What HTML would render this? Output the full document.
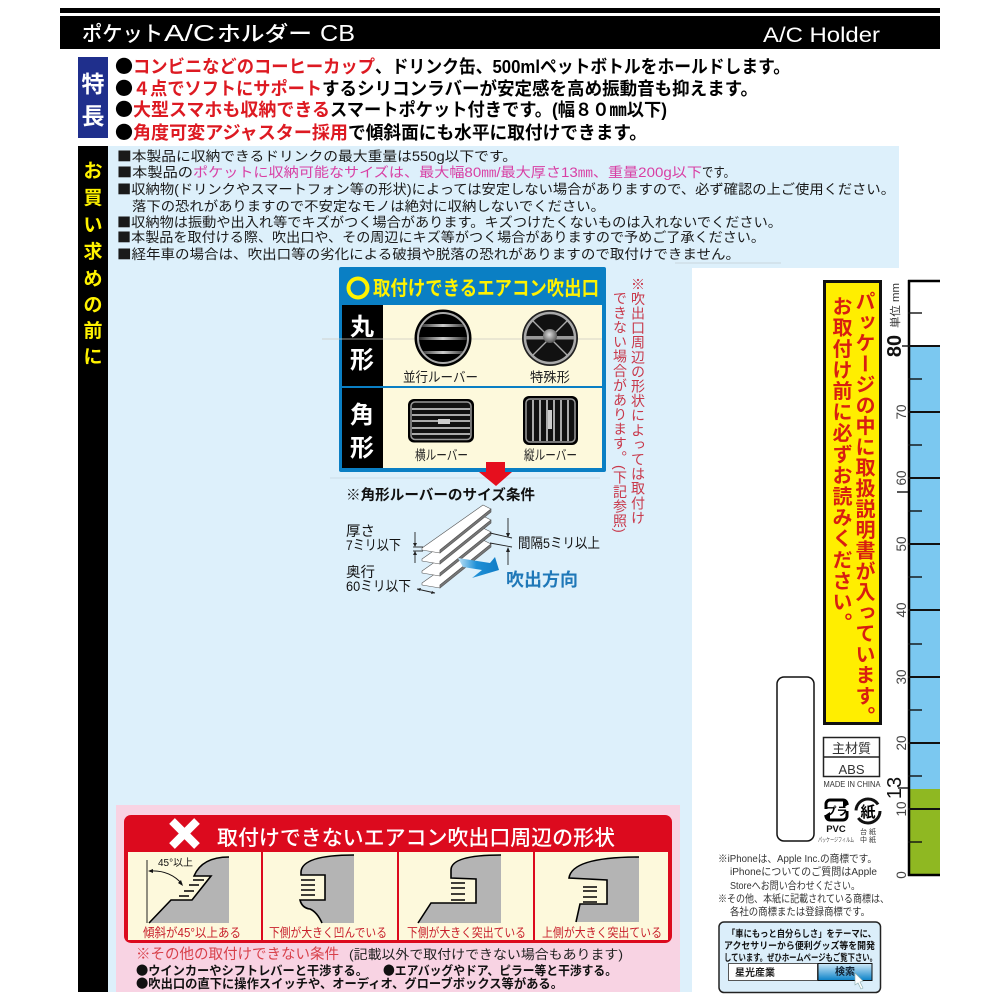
<!DOCTYPE html>
<html lang="ja"><head><meta charset="utf-8"><title>ポケットA/Cホルダー CB</title>
<style>
html,body{margin:0;padding:0;background:#fff;width:1000px;height:1000px;overflow:hidden}
svg{position:absolute;left:0;top:0;font-family:"Liberation Sans","Noto Sans CJK JP",sans-serif}
.j{font-family:"Noto Sans CJK JP",sans-serif}
.b{font-weight:700}
.v{position:absolute;writing-mode:vertical-rl;white-space:nowrap;font-family:"Liberation Sans","Noto Sans CJK JP",sans-serif}
</style></head><body>
<svg width="1000" height="1000" viewBox="0 0 1000 1000" xmlns="http://www.w3.org/2000/svg">
<defs>
<linearGradient id="lv" x1="0" x2="1" y1="0" y2="0"><stop offset="0" stop-color="#222"/><stop offset=".5" stop-color="#ccc"/><stop offset="1" stop-color="#222"/></linearGradient>
<radialGradient id="hub" cx=".45" cy=".4" r=".6"><stop offset="0" stop-color="#ddd"/><stop offset="1" stop-color="#555"/></radialGradient>
<linearGradient id="btn" x1="0" x2="0" y1="0" y2="1"><stop offset="0" stop-color="#cfe9f8"/><stop offset="1" stop-color="#0a82c8"/></linearGradient>
<linearGradient id="ar" x1="0" x2="1" y1="0" y2="0"><stop offset="0" stop-color="#bfe3f7"/><stop offset=".45" stop-color="#1e8fd6"/><stop offset="1" stop-color="#0f7cc6"/></linearGradient>
<clipPath id="c1"><circle cx="443" cy="338" r="24"/></clipPath>
<clipPath id="c2"><circle cx="550" cy="338" r="24"/></clipPath>
</defs>

<!-- header -->
<rect x="60" y="8" width="880" height="5" fill="#000"/>
<rect x="60" y="16" width="880" height="33" fill="#000"/>
<g font-size="21" fill="#fff" font-weight="500">
<text x="82" y="41" textLength="81" lengthAdjust="spacingAndGlyphs">ポケット</text>
<text x="164" y="41" font-size="23" textLength="51" lengthAdjust="spacingAndGlyphs">A/C</text>
<text x="217" y="41" textLength="95" lengthAdjust="spacingAndGlyphs">ホルダー</text>
<text x="320" y="41" font-size="23" textLength="35" lengthAdjust="spacingAndGlyphs">CB</text>
</g>
<text x="763" y="42" font-size="21" fill="#fff" textLength="117" lengthAdjust="spacingAndGlyphs">A/C Holder</text>

<!-- features -->
<rect x="78" y="57" width="30" height="81" fill="#1f2f8c"/>
<text x="93" y="92" font-size="23" class="b" fill="#fff" text-anchor="middle">特</text>
<text x="93" y="124" font-size="23" class="b" fill="#fff" text-anchor="middle">長</text>
<g class="b" font-size="18">
<text class="j" x="115" y="73">●</text><text class="j" x="115" y="95">●</text><text class="j" x="115" y="116">●</text><text class="j" x="115" y="139">●</text>
<g fill="#dd1a22">
<text x="133" y="73" textLength="242" lengthAdjust="spacingAndGlyphs">コンビニなどのコーヒーカップ</text>
<text x="133" y="95" textLength="189" lengthAdjust="spacingAndGlyphs">４点でソフトにサポート</text>
<text x="133" y="116" textLength="197" lengthAdjust="spacingAndGlyphs">大型スマホも収納できる</text>
<text x="133" y="139" textLength="215" lengthAdjust="spacingAndGlyphs">角度可変アジャスター採用</text>
</g>
<text x="375" y="73" textLength="415" lengthAdjust="spacingAndGlyphs">、ドリンク缶、500mlペットボトルをホールドします。</text>
<text x="322" y="95" textLength="436" lengthAdjust="spacingAndGlyphs">するシリコンラバーが安定感を高め振動音も抑えます。</text>
<text x="330" y="116" textLength="337" lengthAdjust="spacingAndGlyphs">スマートポケット付きです。(幅８０㎜以下)</text>
<text x="348" y="139" textLength="299" lengthAdjust="spacingAndGlyphs">で傾斜面にも水平に取付けできます。</text>
</g>

<!-- panels -->
<rect x="108" y="146" width="791" height="122" fill="#ddf0fb"/>
<rect x="108" y="268" width="584" height="724" fill="#ddf0fb"/>
<rect x="78" y="146" width="30" height="846" fill="#000"/>
<g class="b" font-size="19" fill="#fff200" text-anchor="middle">
<text x="93" y="177">お</text><text x="93" y="204">買</text><text x="93" y="231">い</text><text x="93" y="258">求</text><text x="93" y="285">め</text><text x="93" y="311">の</text><text x="93" y="337">前</text><text x="93" y="363">に</text>
</g>

<!-- notes -->
<g font-size="13.5" fill="#1a1a1a">
<text x="117" y="161" textLength="400" lengthAdjust="spacingAndGlyphs"><tspan class="j">■</tspan>本製品に収納できるドリンクの最大重量は550g以下です。</text>
<text x="117" y="177" textLength="76" lengthAdjust="spacingAndGlyphs"><tspan class="j">■</tspan>本製品の</text>
<text x="193" y="177" fill="#d83fa4" textLength="509" lengthAdjust="spacingAndGlyphs">ポケットに収納可能なサイズは、最大幅80㎜/最大厚さ13㎜、重量200g以下</text>
<text x="702" y="177" textLength="33" lengthAdjust="spacingAndGlyphs">です。</text>
<text x="117" y="194" textLength="778" lengthAdjust="spacingAndGlyphs"><tspan class="j">■</tspan>収納物(ドリンクやスマートフォン等の形状)によっては安定しない場合がありますので、必ず確認の上ご使用ください。</text>
<text x="132" y="211" textLength="473" lengthAdjust="spacingAndGlyphs">落下の恐れがありますので不安定なモノは絶対に収納しないでください。</text>
<text x="117" y="227" textLength="665" lengthAdjust="spacingAndGlyphs"><tspan class="j">■</tspan>収納物は振動や出入れ等でキズがつく場合があります。キズつけたくないものは入れないでください。</text>
<text x="117" y="242" textLength="648" lengthAdjust="spacingAndGlyphs"><tspan class="j">■</tspan>本製品を取付ける際、吹出口や、その周辺にキズ等がつく場合がありますので予めご了承ください。</text>
<text x="117" y="259" textLength="623" lengthAdjust="spacingAndGlyphs"><tspan class="j">■</tspan>経年車の場合は、吹出口等の劣化による破損や脱落の恐れがありますので取付けできません。</text>
</g>
<line x1="675" y1="263" x2="781" y2="263" stroke="#c9d6de" stroke-width="1"/>

<!-- OK box -->
<rect x="339" y="267" width="267" height="205" rx="2" fill="#0a7fc4"/>
<circle cx="358" cy="288" r="9.5" fill="none" stroke="#fff200" stroke-width="4"/>
<text x="373" y="295" font-size="20" class="b" fill="#fff200" textLength="226" lengthAdjust="spacingAndGlyphs">取付けできるエアコン吹出口</text>
<rect x="342" y="305" width="260" height="81" fill="#fdf9dc"/>
<rect x="342" y="388" width="260" height="80" fill="#fdf9dc"/>
<rect x="342" y="305" width="41" height="81" fill="#000"/>
<rect x="342" y="388" width="41" height="80" fill="#000"/>
<g class="b" font-size="24" fill="#fff" text-anchor="middle">
<text x="362" y="335">丸</text><text x="362" y="368">形</text><text x="362" y="423">角</text><text x="362" y="456">形</text>
</g>
<line x1="322" y1="339" x2="602" y2="339" stroke="#c8c8c0" stroke-width=".7"/>
<line x1="330" y1="478" x2="600" y2="478" stroke="#c4d6e0" stroke-width=".7"/>

<!-- round vents -->
<circle cx="443" cy="338" r="28.5" fill="#000"/>
<circle cx="443" cy="338" r="25" fill="#000" stroke="#aaa" stroke-width="2"/>
<g clip-path="url(#c1)">
<rect x="418" y="324" width="50" height="3" fill="url(#lv)"/><rect x="418" y="337" width="50" height="3" fill="url(#lv)"/><rect x="418" y="351" width="50" height="3" fill="url(#lv)"/>
</g>
<circle cx="550" cy="338" r="28" fill="#222"/>
<circle cx="550" cy="338" r="25" fill="#111" stroke="#aaa" stroke-width="2.5"/>
<g clip-path="url(#c2)" stroke="#aaa" stroke-width="1.3">
<line x1="530" y1="318" x2="570" y2="358"/><line x1="570" y1="318" x2="530" y2="358"/>
<rect x="525" y="336" width="50" height="3.5" fill="#999" stroke="none"/>
</g>
<circle cx="550" cy="336" r="7" fill="url(#hub)"/>
<text x="403" y="382" font-size="13.5" fill="#222" textLength="75" lengthAdjust="spacingAndGlyphs">並行ルーバー</text>
<text x="530" y="382" font-size="13.5" fill="#222" textLength="40" lengthAdjust="spacingAndGlyphs">特殊形</text>

<!-- square vents -->
<rect x="408" y="399" width="66" height="43.5" rx="6" fill="#000"/>
<rect x="411" y="402" width="60" height="37.5" rx="4" fill="#111" stroke="#999" stroke-width="1.5"/>
<g fill="#aaa"><rect x="412" y="408" width="58" height="2"/><rect x="412" y="414" width="58" height="2"/><rect x="412" y="420" width="58" height="2"/><rect x="412" y="427" width="58" height="2"/><rect x="412" y="433" width="58" height="2"/></g>
<rect x="438" y="419" width="12" height="5" fill="#ccc"/>
<rect x="523" y="396" width="55" height="49" rx="6" fill="#000"/>
<rect x="526" y="399" width="49" height="43" rx="4" fill="#111" stroke="#999" stroke-width="1.5"/>
<g fill="#aaa"><rect x="532" y="400" width="2" height="41"/><rect x="539" y="400" width="2" height="41"/><rect x="546" y="400" width="2" height="41"/><rect x="553" y="400" width="2" height="41"/><rect x="560" y="400" width="2" height="41"/><rect x="567" y="400" width="2" height="41"/></g>
<rect x="548" y="410" width="4" height="19" fill="#ccc"/>
<text x="415" y="460" font-size="13.5" fill="#222" textLength="53" lengthAdjust="spacingAndGlyphs">横ルーバー</text>
<text x="524" y="460" font-size="13.5" fill="#222" textLength="53" lengthAdjust="spacingAndGlyphs">縦ルーバー</text>

<!-- red arrow -->
<polygon points="486,462 505,462 505,472 512,472 496,486 479,472 486,472" fill="#e60f1e"/>

<text x="346" y="500" font-size="14.5" class="b" fill="#111" textLength="189" lengthAdjust="spacingAndGlyphs">※角形ルーバーのサイズ条件</text>

<!-- slats -->
<g stroke="#555" stroke-width=".6" stroke-linejoin="round">
<g transform="translate(0,35)"><polygon points="422,548 483,505 491,509 440,550 440,553 422,550" fill="#fff"/><polygon points="440,550 491,509 491,512 440,553" fill="#777"/></g>
<g transform="translate(0,23)"><polygon points="422,548 483,505 491,509 440,550 440,553 422,550" fill="#fff"/><polygon points="440,550 491,509 491,512 440,553" fill="#777"/></g>
<g transform="translate(0,11)"><polygon points="422,548 483,505 491,509 440,550 440,553 422,550" fill="#fff"/><polygon points="440,550 491,509 491,512 440,553" fill="#777"/></g>
<g><polygon points="422,548 483,505 491,509 440,550 440,553 422,550" fill="#fff"/><polygon points="440,550 491,509 491,512 440,553" fill="#777"/></g>
</g>
<polygon points="458,558 490,563 495,557 499,570 472,578 482,570 463,567" fill="url(#ar)"/>
<!-- dimension marks -->
<g stroke="#222" stroke-width=".9" fill="none">
<line x1="415" y1="532" x2="415" y2="546"/><line x1="415" y1="551" x2="415" y2="563"/>
<line x1="413" y1="547" x2="423" y2="547"/><line x1="413" y1="551" x2="423" y2="551"/>
<line x1="508" y1="518" x2="508" y2="536"/><line x1="508" y1="549" x2="508" y2="565"/>
<polyline points="490,533 512,538"/><polyline points="490,543 512,547"/>
<line x1="417" y1="589" x2="435" y2="593"/>
</g>
<g fill="#222">
<polygon points="413,543 417,543 415,547"/><polygon points="413,555 417,555 415,551"/>
<polygon points="506,533 510,533 508,538"/><polygon points="506,552 510,552 508,547"/>
<polygon points="417,589 421,588 420,591"/><polygon points="435,593 431,594 432,591"/>
</g>
<g font-size="14" fill="#111">
<text x="346" y="536" textLength="29" lengthAdjust="spacingAndGlyphs">厚さ</text>
<text x="346" y="550" textLength="55" lengthAdjust="spacingAndGlyphs">7ミリ以下</text>
<text x="346" y="577" textLength="29" lengthAdjust="spacingAndGlyphs">奥行</text>
<text x="346" y="591" textLength="65" lengthAdjust="spacingAndGlyphs">60ミリ以下</text>
<text x="518" y="548" textLength="82" lengthAdjust="spacingAndGlyphs">間隔5ミリ以上</text>
</g>
<text x="506" y="586" font-size="18" class="b" fill="#1f78b8" textLength="72" lengthAdjust="spacingAndGlyphs">吹出方向</text>

<!-- pink panel -->
<rect x="116" y="805" width="564" height="187" fill="#f8d3e3"/>
<rect x="124" y="815" width="548" height="128" rx="7" fill="#dc0a1e"/>
<g stroke="#fff" stroke-width="8"><line x1="172" y1="821" x2="197" y2="846"/><line x1="197" y1="821" x2="172" y2="846"/></g>
<text x="217" y="845" font-size="21" fill="#fff" font-weight="500" textLength="398" lengthAdjust="spacingAndGlyphs">取付けできないエアコン吹出口周辺の形状</text>
<rect x="128" y="852" width="133" height="88" fill="#fdf9dc"/>
<rect x="263" y="852" width="134" height="88" fill="#fdf9dc"/>
<rect x="399" y="852" width="134" height="88" fill="#fdf9dc"/>
<rect x="535" y="852" width="133" height="88" fill="#fdf9dc"/>

<!-- cell shapes -->
<path d="M149,923 L171,900 L192,900 L211,876 L194,876 Q202,857 229,857 L229,923 Z" fill="#b4b4b4"/>
<path d="M149,923 L171,900 L192,900 L211,876 L194,876 Q202,857 229,857" fill="none" stroke="#000" stroke-width="1.6"/>
<line x1="147" y1="860" x2="147" y2="923" stroke="#222"/>
<path d="M150,871 Q170,870 182,884" fill="none" stroke="#111"/>
<polygon points="148,871 153,869 153,873" fill="#111"/><polygon points="183,886 178,883 181,880" fill="#111"/>
<g stroke="#000" stroke-width="1.5"><line x1="193" y1="880" x2="204" y2="880"/><line x1="189" y1="885" x2="199" y2="885"/><line x1="184" y1="891" x2="194" y2="891"/><line x1="179" y1="896" x2="189" y2="896"/></g>
<text x="158" y="866" font-size="10" fill="#111" textLength="35" lengthAdjust="spacingAndGlyphs">45°以上</text>

<path d="M354,855 Q302,855 301,872 L301,875 L325,875 L325,900 L300,900 Q302,908 310,909 Q317,912 322,923 L354,923 Z" fill="#b4b4b4"/>
<path d="M354,855 Q302,855 301,872 L301,875 L325,875 L325,900 L300,900 Q302,908 310,909 Q317,912 322,923" fill="none" stroke="#000" stroke-width="1.6"/>
<g stroke="#000" stroke-width="1.5"><line x1="301" y1="880" x2="315" y2="880"/><line x1="301" y1="885" x2="315" y2="885"/><line x1="301" y1="890" x2="315" y2="890"/><line x1="301" y1="895" x2="315" y2="895"/></g>

<path d="M501,855 Q451,855 451,870 L451,878 L476,879 L476,903 L431,903 L418,923 L501,923 Z" fill="#b4b4b4"/>
<path d="M501,855 Q451,855 451,870 L451,878 L476,879 L476,903 L431,903 L418,923" fill="none" stroke="#000" stroke-width="1.6"/>
<g stroke="#000" stroke-width="1.5"><line x1="451" y1="883" x2="465" y2="883"/><line x1="451" y1="888" x2="465" y2="888"/><line x1="451" y1="894" x2="465" y2="894"/><line x1="451" y1="900" x2="465" y2="900"/></g>

<path d="M639,857 Q572,857 569,878 L607,880 L607,904 L580,904 L576,922 L639,922 Z" fill="#b4b4b4"/>
<path d="M639,857 Q572,857 569,878 L607,880 L607,904 L580,904 L576,922" fill="none" stroke="#000" stroke-width="1.6"/>
<g stroke="#000" stroke-width="1.5"><line x1="583" y1="887" x2="597" y2="887"/><line x1="583" y1="891" x2="597" y2="891"/><line x1="583" y1="897" x2="597" y2="897"/><line x1="583" y1="902" x2="597" y2="902"/></g>

<g font-size="12.5" fill="#c8202c">
<text x="143" y="937" textLength="98" lengthAdjust="spacingAndGlyphs">傾斜が45°以上ある</text>
<text x="269" y="937" textLength="118" lengthAdjust="spacingAndGlyphs">下側が大きく凹んでいる</text>
<text x="407" y="937" textLength="119" lengthAdjust="spacingAndGlyphs">下側が大きく突出ている</text>
<text x="542" y="937" textLength="120" lengthAdjust="spacingAndGlyphs">上側が大きく突出ている</text>
</g>
<text x="136" y="959" font-size="14.5" fill="#d8404a" textLength="203" lengthAdjust="spacing">※その他の取付けできない条件</text>
<text x="349" y="959" font-size="13" fill="#222" textLength="274" lengthAdjust="spacingAndGlyphs">(記載以外で取付けできない場合もあります)</text>
<g font-size="12.5" class="b" fill="#111">
<text x="136" y="975" textLength="232" lengthAdjust="spacingAndGlyphs"><tspan class="j">●</tspan>ウインカーやシフトレバーと干渉する。</text>
<text x="383" y="975" textLength="234" lengthAdjust="spacingAndGlyphs"><tspan class="j">●</tspan>エアバッグやドア、ピラー等と干渉する。</text>
<text x="136" y="988" textLength="427" lengthAdjust="spacingAndGlyphs"><tspan class="j">●</tspan>吹出口の直下に操作スイッチや、オーディオ、グローブボックス等がある。</text>
</g>

<!-- right column -->
<rect x="777" y="677" width="37" height="164" rx="7" fill="#fff" stroke="#111" stroke-width="1.5"/>
<rect x="824.5" y="281.5" width="56" height="442" fill="#ffee00" stroke="#111" stroke-width="3"/>

<!-- table -->
<rect x="823.5" y="737.5" width="56" height="39" fill="#fff" stroke="#222" stroke-width="1.5"/>
<line x1="823" y1="757" x2="880" y2="757" stroke="#222" stroke-width="1.5"/>
<text x="851.5" y="753" font-size="13" fill="#333" text-anchor="middle">主材質</text>
<text x="851.5" y="774" font-size="13" fill="#333" text-anchor="middle">ABS</text>
<text x="823.5" y="787" font-size="8.5" fill="#333" textLength="57" lengthAdjust="spacingAndGlyphs">MADE IN CHINA</text>

<!-- recycle marks -->
<rect x="826" y="800" width="21" height="20" rx="4" fill="none" stroke="#000" stroke-width="3"/>
<rect x="843" y="805" width="6" height="6" fill="#fff"/><rect x="824" y="809" width="6" height="6" fill="#fff"/>
<polygon points="843,800 849,804 843,808" fill="#000"/><polygon points="830,812 824,816 830,820" fill="#000"/>
<text x="836.5" y="815" font-size="11" class="b" fill="#000" text-anchor="middle">プラ</text>
<text x="836" y="832" font-size="9.5" class="b" fill="#111" text-anchor="middle">PVC</text>
<text x="836" y="842" font-size="6" fill="#444" text-anchor="middle" textLength="36" lengthAdjust="spacingAndGlyphs">パッケージフィルム</text>
<circle cx="868" cy="811" r="12" fill="none" stroke="#111" stroke-width="3" stroke-dasharray="30 8"/>
<text x="868" y="817" font-size="15" class="b" fill="#000" text-anchor="middle">紙</text>
<text x="868" y="834" font-size="7" fill="#333" text-anchor="middle">台 紙</text>
<text x="868" y="842" font-size="7" fill="#333" text-anchor="middle">中 紙</text>

<!-- trademark -->
<g font-size="10.5" fill="#333">
<text x="718" y="862" textLength="159" lengthAdjust="spacingAndGlyphs">※iPhoneは、Apple Inc.の商標です。</text>
<text x="730" y="875" textLength="147" lengthAdjust="spacingAndGlyphs">iPhoneについてのご質問はApple</text>
<text x="730" y="889" textLength="130" lengthAdjust="spacingAndGlyphs">Storeへお問い合わせください。</text>
<text x="718" y="902" textLength="171" lengthAdjust="spacingAndGlyphs">※その他、本紙に記載されている商標は、</text>
<text x="730" y="915" textLength="140" lengthAdjust="spacingAndGlyphs">各社の商標または登録商標です。</text>
</g>

<!-- search box -->
<rect x="719" y="922" width="161.5" height="70.5" rx="5" fill="#dbeefa" stroke="#222" stroke-width="1.5"/>
<g font-size="9.5" class="b" fill="#111">
<text x="727" y="937" textLength="149" lengthAdjust="spacingAndGlyphs">「車にもっと自分らしさ」をテーマに、</text>
<text x="724" y="949" textLength="151" lengthAdjust="spacingAndGlyphs">アクセサリーから便利グッズ等を開発</text>
<text x="724" y="961" textLength="153" lengthAdjust="spacingAndGlyphs">しています。ぜひホームページもご覧下さい。</text>
</g>
<rect x="728.5" y="963.5" width="89" height="17" fill="#fff" stroke="#555" stroke-width="1"/>
<rect x="818" y="963.5" width="54" height="17" fill="url(#btn)" stroke="#111" stroke-width="1"/>
<text x="735" y="976" font-size="10" class="b" fill="#222" textLength="40" lengthAdjust="spacing">星光産業</text>
<text x="845" y="975" font-size="10" class="b" fill="#123" text-anchor="middle">検索</text>
<polygon points="855,973 863,981 860,982 863,988 861,989 858,983 855,985" fill="#fff" stroke="#8aa" stroke-width=".6"/>

<!-- ruler -->
<rect x="908" y="346" width="32" height="443" fill="#7bc8f0"/>
<rect x="908" y="789" width="32" height="86" fill="#8fb822"/>
<g stroke="#000" stroke-width="2.5">
<line x1="909" y1="280" x2="909" y2="876"/>
<line x1="908" y1="281" x2="940" y2="281"/>
<line x1="908" y1="875" x2="940" y2="875"/>
</g>
<g stroke="#111" stroke-width="2">
<line x1="908" y1="346" x2="940" y2="346"/><line x1="908" y1="412" x2="940" y2="412"/><line x1="908" y1="478" x2="940" y2="478"/><line x1="908" y1="544" x2="940" y2="544"/><line x1="908" y1="610" x2="940" y2="610"/><line x1="908" y1="677" x2="940" y2="677"/><line x1="908" y1="743" x2="940" y2="743"/><line x1="908" y1="809" x2="940" y2="809"/>
</g>
<g stroke="#111" stroke-width="1.4">
<line x1="908" y1="313" x2="922" y2="313"/><line x1="908" y1="379" x2="922" y2="379"/><line x1="908" y1="445" x2="922" y2="445"/><line x1="908" y1="511" x2="922" y2="511"/><line x1="908" y1="577" x2="922" y2="577"/><line x1="908" y1="644" x2="922" y2="644"/><line x1="908" y1="710" x2="922" y2="710"/><line x1="908" y1="776" x2="922" y2="776"/><line x1="908" y1="842" x2="922" y2="842"/>
<line x1="902" y1="346" x2="908" y2="346"/><line x1="897" y1="492" x2="908" y2="492"/><line x1="898" y1="788" x2="908" y2="788"/>
</g>
<g font-size="13.5" fill="#444" text-anchor="middle">
<text transform="translate(906,412) rotate(-90)">70</text>
<text transform="translate(906,478) rotate(-90)">60</text>
<text transform="translate(906,544) rotate(-90)">50</text>
<text transform="translate(906,610) rotate(-90)">40</text>
<text transform="translate(906,677) rotate(-90)">30</text>
<text transform="translate(906,743) rotate(-90)">20</text>
<text transform="translate(906,809) rotate(-90)">10</text>
<text transform="translate(906,875) rotate(-90)">0</text>
</g>
<text transform="translate(901,346) rotate(-90)" font-size="20" class="b" fill="#111" text-anchor="middle">80</text>
<text transform="translate(901,788) rotate(-90)" font-size="20" fill="#111" text-anchor="middle">13</text>
<text transform="translate(899,328) rotate(-90)" font-size="11" fill="#333" textLength="45" lengthAdjust="spacingAndGlyphs">単位 mm</text>
</svg>

<div class="v" style="left:628px;top:277px;font-size:14px;line-height:20px;letter-spacing:.6px;color:#c8384a">※吹出口周辺の形状によっては取付け</div>
<div class="v" style="left:610px;top:291px;font-size:14px;line-height:20px;letter-spacing:.5px;color:#c8384a">できない場合があります。(下記参照)</div>
<div class="v" style="left:851px;top:291px;font-size:20px;line-height:24px;letter-spacing:.75px;font-weight:700;color:#d81e10">パッケージの中に取扱説明書が入っています。</div>
<div class="v" style="left:828px;top:296px;font-size:20px;line-height:24px;letter-spacing:1.1px;font-weight:700;color:#d81e10">お取付け前に必ずお読みください。</div>
</body></html>
